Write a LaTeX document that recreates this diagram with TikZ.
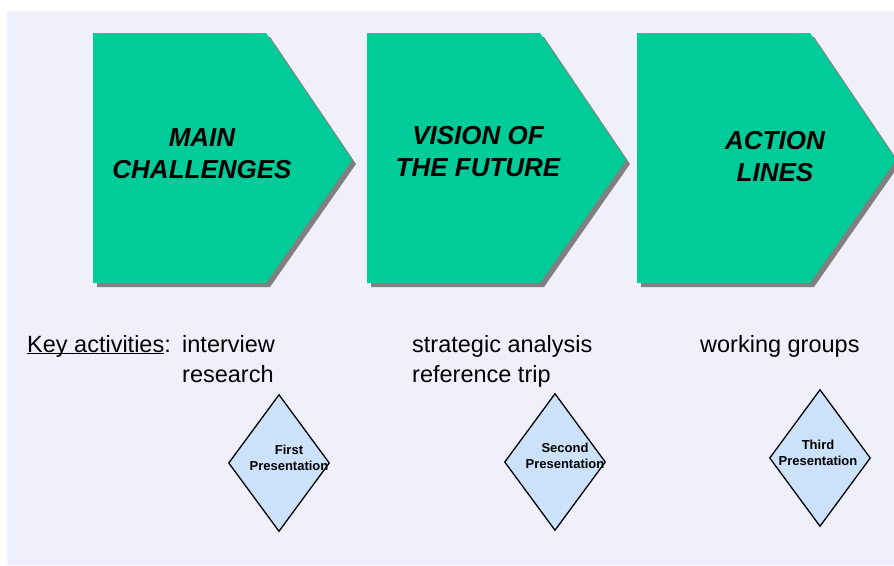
\documentclass[tikz,border=0pt]{standalone}
\usepackage{fontspec}
\setmainfont{Liberation Sans}
\usetikzlibrary{shapes.geometric,shadows,positioning}

\definecolor{stagegreen}{HTML}{00CC99}
\definecolor{shadowgray}{HTML}{808080}
\definecolor{pagebg}{HTML}{F0F0FD}
\definecolor{milestone}{HTML}{CCE2FA}

\tikzset{
  stage/.style={fill=stagegreen, drop shadow={shadow xshift=4pt, shadow yshift=-4pt, fill=shadowgray, opacity=1}},
  stagetext/.style={align=center, font=\fontsize{26}{32}\selectfont\bfseries\itshape, inner sep=0pt},
  activity/.style={align=left, anchor=north west, font=\fontsize{23.5}{30}\selectfont, inner sep=0pt},
  milestonebox/.style={draw, line width=1.3pt, fill=milestone, diamond, minimum width=101pt, minimum height=137pt, inner sep=0pt},
  milestonetext/.style={align=center, font=\fontsize{13}{16}\selectfont\bfseries, inner sep=0pt}
}

\begin{document}
\begin{tikzpicture}[x=1pt, y=-1pt]
  \useasboundingbox (0,0) rectangle (894,565);
  \fill[pagebg] (7,11) rectangle (894,565);

  % the three stages
  \foreach \l in {93,367,637}
    \path[stage] (\l,33) -- ++(173,0) -- ++(86,127) -- ++(-86,123) -- (\l,283) -- cycle;

  \node[stagetext] (challenges) at (202,154) {MAIN\\CHALLENGES};
  \node[stagetext] (vision) at (478,152) {VISION OF\\THE FUTURE};
  \node[stagetext] (action) at (775,157) {ACTION\\LINES};

  % activities under each stage (first baseline at y=352)
  \node[activity, anchor=base west] (keylabel) at (27,352) {\underline{\smash{Key activities}}:};
  \node[activity] (act1) at (182,335) {interview\\research};
  \node[activity] (act2) at (412,335) {strategic analysis\\reference trip};
  \node[activity] (act3) at (700,335) {working groups};

  % milestones
  \node[milestonebox] (first) at (279,463) {};
  \node[milestonebox] (second) at (555,462) {};
  \node[milestonebox] (third) at (820,458) {};

  \node[milestonetext] (firsttext) at (289,458) {First\\Presentation};
  \node[milestonetext] (secondtext) at (565,456) {Second\\Presentation};
  \node[milestonetext] (thirdtext) at (818,453) {Third\\Presentation};
\end{tikzpicture}
\end{document}
